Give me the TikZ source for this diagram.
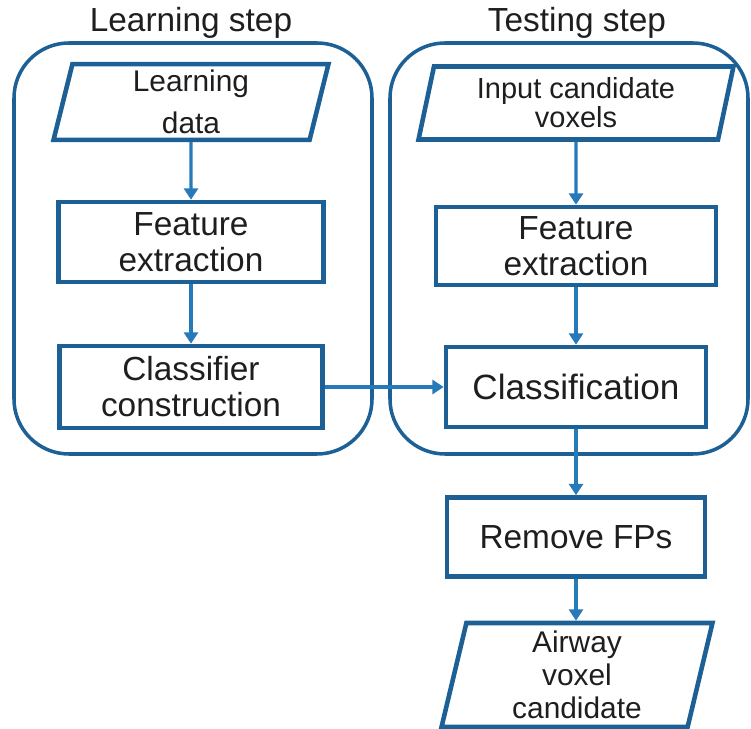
\documentclass[tikz,border=0pt]{standalone}
\usepackage{fontspec}
\setmainfont{Liberation Sans}
\usetikzlibrary{shapes.geometric,arrows.meta}
\definecolor{boxblue}{RGB}{28,96,150}
\definecolor{arrowblue}{RGB}{38,122,186}
\definecolor{inktext}{RGB}{30,30,30}
\begin{document}
\begin{tikzpicture}[x=0.02cm,y=-0.02cm,
  stepframe/.style={draw=boxblue,line width=2pt,rounded corners=1.1cm},
  proc/.style={draw=boxblue,line width=2.6pt,text=inktext,align=center,
    font=\fontsize{19}{20.5}\selectfont,minimum width=5.3cm,minimum height=1.6cm},
  io/.style={trapezium,trapezium left angle=76,trapezium right angle=104,
    trapezium stretches body,draw=boxblue,line width=2.6pt,text=inktext,align=center},
  flow/.style={draw=arrowblue,line width=1.9pt,-{Triangle[width=8pt,length=6.5pt]}}]
\useasboundingbox (0,0) rectangle (751,729);

\draw[stepframe] (14,43) rectangle (372,454);
\draw[stepframe] (390,43) rectangle (748,454);
\node[text=inktext,font=\fontsize{19}{20}\selectfont,anchor=base] at (191,32) {Learning step};
\node[text=inktext,font=\fontsize{19}{20}\selectfont,anchor=base] at (577,32) {Testing step};

\node[io,font=\fontsize{17}{24}\selectfont,minimum width=5.5cm,minimum height=1.4cm] (ldata) at (191,102) {Learning\\data};
\node[proc] (lfeat) at (191,242) {Feature\\extraction};
\node[proc,minimum width=5.26cm,minimum height=1.64cm] (build) at (191,387) {Classifier\\construction};

\node[io,font=\fontsize{16.5}{16.5}\selectfont,minimum width=6.3cm,minimum height=1.46cm] (input) at (576,103) {Input candidate\\voxels};
\node[proc,minimum width=5.6cm,minimum height=1.56cm] (tfeat) at (576,246) {Feature\\extraction};
\node[proc,minimum width=5.2cm,font=\fontsize{20}{21}\selectfont] (classify) at (576,387) {Classification};
\node[proc,minimum width=5.16cm,minimum height=1.58cm] (remove) at (576,537) {Remove FPs};
\node[io,font=\fontsize{17}{18.8}\selectfont,minimum width=5.42cm,minimum height=2.08cm] (airway) at (577,675) {Airway\\voxel\\candidate};

\draw[flow] (ldata) -- (lfeat);
\draw[flow] (lfeat) -- (build);
\draw[flow] (build) -- (classify);
\draw[flow] (input) -- (tfeat);
\draw[flow] (tfeat) -- (classify);
\draw[flow] (classify) -- (remove);
\draw[flow] (remove) -- (remove |- airway.north);
\end{tikzpicture}
\end{document}
